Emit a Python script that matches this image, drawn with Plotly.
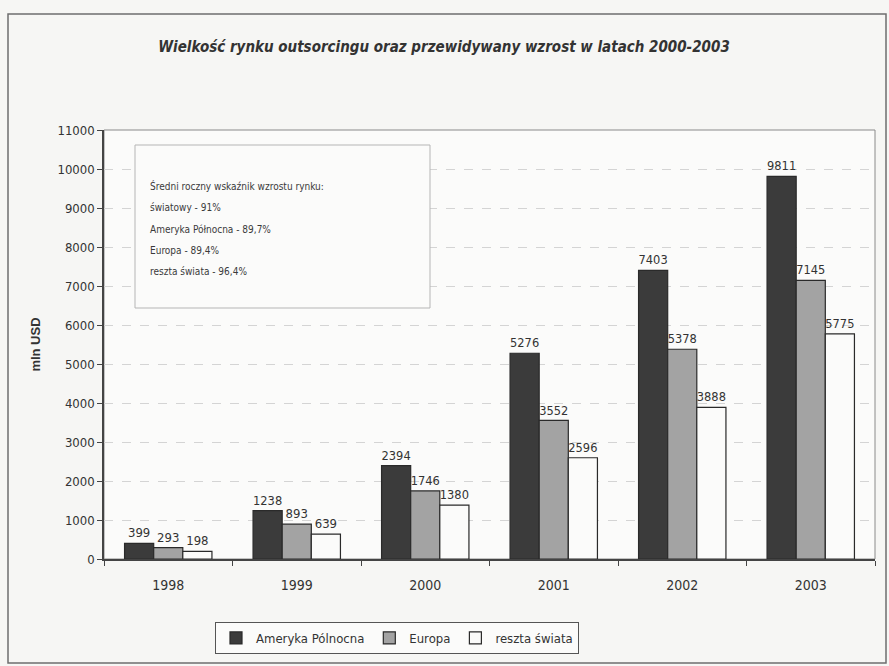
import plotly.graph_objects as go

years = ["1998", "1999", "2000", "2001", "2002", "2003"]
ameryka = [399, 1238, 2394, 5276, 7403, 9811]
europa = [293, 893, 1746, 3552, 5378, 7145]
reszta = [198, 639, 1380, 2596, 3888, 5775]
series_names = ["Ameryka Pólnocna", "Europa", "reszta świata"]
box_lines = [
    "Średni roczny wskaźnik wzrostu rynku:",
    "światowy - 91%",
    "Ameryka Północna - 89,7%",
    "Europa - 89,4%",
    "reszta świata - 96,4%",
]
yticks = list(range(0, 11001, 1000))
yticklabels = [str(v) for v in yticks]

W, H = 889, 666
L, R, T, B = 104, 14, 130, 107
pw, ph = W - L - R, H - T - B

def px(x):
    return (x - L) / pw

def py(y):
    return (H - B - y) / ph

NARROW = "DejaVu Sans Condensed, Liberation Sans Narrow, Arial Narrow, sans-serif"
SANS = "Liberation Sans, Arial, sans-serif"
fig = go.Figure()
colors = ["#3b3b3b", "#a3a3a3", "#fbfbfa"]
for name, vals, c in zip(series_names, [ameryka, europa, reszta], colors):
    fig.add_trace(go.Bar(
        x=years, y=vals, name=name,
        marker=dict(color=c, line=dict(color="#2a2a2a", width=1.2)),
        text=[str(v) for v in vals], textposition="outside",
        textfont=dict(family=NARROW, size=13, color="#333333"),
        cliponaxis=False,
    ))

fig.update_layout(
    width=W, height=H,
    margin=dict(l=L, r=R, t=T, b=B),
    paper_bgcolor="#f6f6f4",
    plot_bgcolor="#fbfbfa",
    barmode="group",
    bargap=0.32,
    bargroupgap=0,
    title=dict(
        text="<b><i>Wielkość rynku outsorcingu oraz przewidywany wzrost w latach 2000-2003</i></b>",
        x=px(444), xref="paper", xanchor="center", y=1 - 47 / H, yanchor="middle",
        font=dict(family=NARROW, size=15, color="#333333"),
    ),
    font=dict(family=NARROW, color="#333333"),
    showlegend=True,
    legend=dict(
        orientation="h", x=px(397), xanchor="center", y=py(622), yanchor="top",
        bordercolor="#555555", borderwidth=1, bgcolor="#fbfbfa",
        font=dict(family=NARROW, size=13, color="#333333"),
        itemwidth=30, traceorder="normal",
    ),
    xaxis=dict(
        showline=True, linecolor="#444444", linewidth=1.5,
        ticks="outside", tickson="boundaries", ticklen=5, tickcolor="#444444",
        tickfont=dict(family=NARROW, size=14, color="#333333"),
        ticklabelstandoff=12,
        showgrid=False,
    ),
    yaxis=dict(
        range=[0, 11000], tickvals=yticks, ticktext=yticklabels,
        showline=True, linecolor="#444444", linewidth=1.5,
        ticks="outside", ticklen=5, tickcolor="#444444",
        tickfont=dict(family=NARROW, size=13, color="#333333"),
        showgrid=True, gridcolor="#d4d4d4", gridwidth=1, griddash="dash",
        zeroline=False,
        title=dict(text="<b>mln USD</b>", font=dict(family=SANS, size=13, color="#333333"), standoff=14),
    ),
)

# plot area border (top & right)
fig.add_shape(type="rect", xref="paper", yref="paper", x0=0, x1=1, y0=0, y1=1,
              line=dict(color="#8a8a8a", width=1), layer="below")
# outer chart frame
fig.add_shape(type="rect", xref="paper", yref="paper",
              x0=px(8), x1=px(886), y0=py(663), y1=py(14),
              line=dict(color="#6e6e6e", width=1.5), layer="below")
# annotation text box
fig.add_shape(type="rect", xref="paper", yref="paper",
              x0=px(135), x1=px(430), y0=py(308), y1=py(145),
              line=dict(color="#b5b5b5", width=1), fillcolor="#fbfbfa", layer="above")
line_y = [186, 207, 229, 250, 271]
for t, yy in zip(box_lines, line_y):
    fig.add_annotation(xref="paper", yref="paper", x=px(148), y=py(yy),
                       text=t, showarrow=False, xanchor="left", yanchor="middle",
                       font=dict(family=NARROW, size=10, color="#3a3a3a"))

fig.write_html("out.html")
